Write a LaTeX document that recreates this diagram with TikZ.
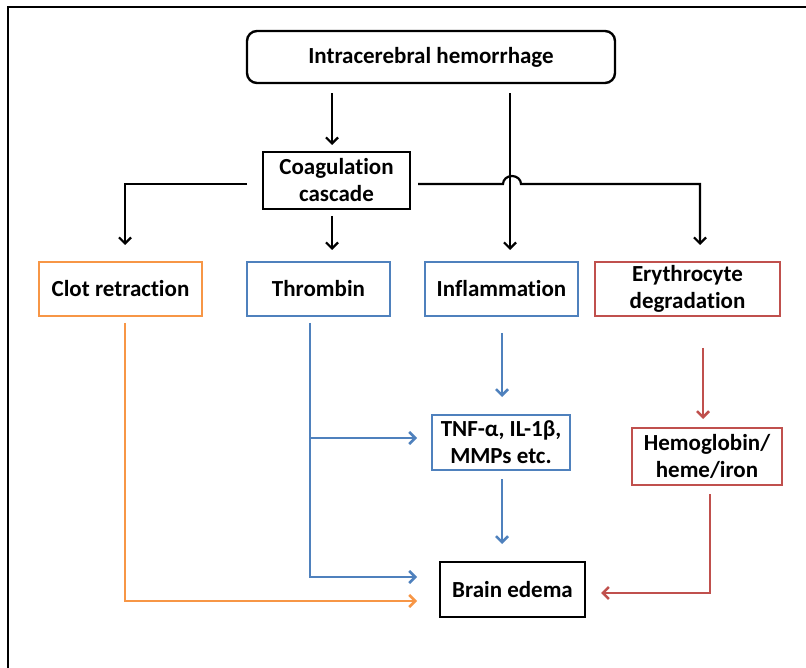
\documentclass[tikz,border=0pt]{standalone}
\usepackage{fontspec}
\setmainfont{Carlito}[Ligatures=CommonOff]
\usetikzlibrary{arrows.meta,calc}
\definecolor{corange}{HTML}{F79646}
\definecolor{cblue}{HTML}{4F81BD}
\definecolor{cred}{HTML}{C0504D}
\begin{document}
\begin{tikzpicture}[x=1pt,y=-1pt,
  box/.style={draw, line width=2pt, font=\bfseries\fontsize{23}{27}\selectfont, align=center, inner sep=0pt, fill=white},
  con/.style={line width=2.2pt, -{Straight Barb[length=6pt,width=12pt]}},
  bcon/.style={con, draw=black},
  ocon/.style={con, draw=corange, line width=2.5pt},
  ucon/.style={con, draw=cblue, line width=2.5pt},
  rcon/.style={con, draw=cred, line width=2.5pt}]
\useasboundingbox (0,0) rectangle (806,668);
\draw[line width=2pt] (8,668) -- (8,7) -- (806,7);

\node[box, rounded corners=10pt, line width=2.4pt, minimum width=368pt, minimum height=52pt] (ICH) at (431,57) {Intracerebral hemorrhage};
\node[box, minimum width=147pt, minimum height=57pt] (Coag) at (336.5,180.5) {Coagulation\\cascade};
\node[box, draw=corange, minimum width=163pt, minimum height=54pt] (Clot) at (120.5,289) {Clot retraction};
\node[box, draw=cblue, minimum width=143pt, minimum height=54pt] (Thr) at (318.5,289) {Thrombin};
\node[box, draw=cblue, minimum width=153pt, minimum height=54pt] (Infl) at (501.5,289) {Inflammation};
\node[box, draw=cred, minimum width=185pt, minimum height=54pt] (Ery) at (687.5,289) {Erythrocyte\\degradation};
\node[box, draw=cblue, minimum width=138pt, minimum height=55pt] (TNF) at (501,442.5) {TNF-α, IL-1β,\\MMPs etc.};
\node[box, draw=cred, minimum width=150pt, minimum height=57pt] (Hb) at (707,456.5) {Hemoglobin/\\heme/iron};
\node[box, minimum width=145pt, minimum height=55pt] (Brain) at (512.5,589.5) {Brain edema};

\coordinate (xa) at (332,0);
\coordinate (xb) at (510,0);
\coordinate (xc) at (703,0);
\coordinate (tb) at (310,438);

% black connectors
\draw[bcon, shorten <=9pt, shorten >=6pt] (ICH.south -| xa) -- (Coag.north -| xa);
\draw[bcon, shorten <=9pt, shorten >=11pt] (ICH.south -| xb) -- (Infl.north -| xb);
\draw[bcon, shorten <=6pt, shorten >=11pt] (Coag.south -| xa) -- (Thr.north -| xa);
\draw[bcon] ([xshift=-15pt,yshift=-3.5pt]Coag.west) -| ([xshift=4.5pt,yshift=16pt]Clot.north);
\draw[bcon] ([xshift=7pt,yshift=-3.5pt]Coag.east) -- ++(85,0) arc[start angle=180, end angle=360, x radius=9, y radius=8] -| ([xshift=12.5pt,yshift=16pt]Ery.north);

% coloured connectors
\draw[ocon] ([xshift=4.5pt,yshift=-6pt]Clot.south) |- ([xshift=-22pt,yshift=-11.5pt]Brain.west);
\draw[ucon] ([xshift=-8.5pt,yshift=-6pt]Thr.south) |- ([xshift=-22pt,yshift=12.5pt]Brain.west);
\draw[ucon, shorten >=14pt] (tb) -- (TNF.west |- tb);
\draw[ucon, shorten <=16pt, shorten >=17pt] ([xshift=0.5pt]Infl.south) -- ([xshift=1pt]TNF.north);
\draw[ucon, shorten <=8pt, shorten >=17pt] ([xshift=1pt]TNF.south) -- ([xshift=-10.5pt]Brain.north);
\draw[rcon, shorten <=31pt, shorten >=8pt] (Ery.south -| xc) -- (Hb.north -| xc);
\draw[rcon] ([xshift=3pt,yshift=-8pt]Hb.south) |- ([xshift=15pt,yshift=-3.5pt]Brain.east);
\end{tikzpicture}
\end{document}
